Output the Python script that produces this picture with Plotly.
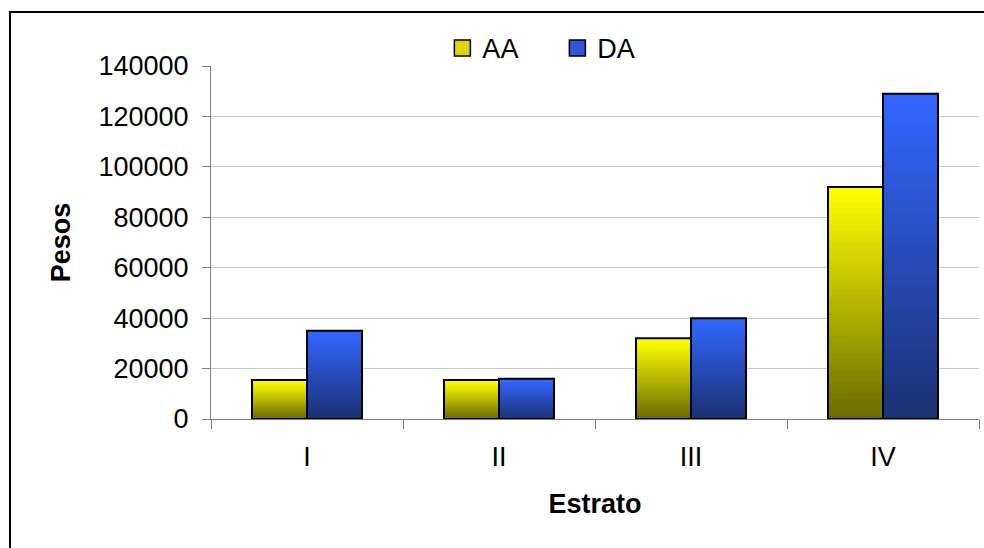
import plotly.graph_objects as go

# Data
estratos = ["I", "II", "III", "IV"]
aa_values = [15500, 15500, 32000, 92000]
da_values = [35000, 16000, 40000, 129000]
y_ticks = [0, 20000, 40000, 60000, 80000, 100000, 120000, 140000]

series = [
    # name, values, top colour, bottom colour
    ("AA", aa_values, (255, 255, 0), (104, 104, 0)),
    ("DA", da_values, (51, 102, 255), (26, 48, 112)),
]

FONT = "Liberation Sans, Arial, sans-serif"
FS = 27
N_STEPS = 40

fig = go.Figure()


def mix(c_top, c_bot, t):
    r, g, b = (round(c_bot[i] + (c_top[i] - c_bot[i]) * t) for i in range(3))
    return f"rgb({r},{g},{b})"


# Vertical gradient: each bar is split into stacked slices; every slice
# reaches a little below its own band so the next one drawn covers the seam.
for name, vals, c_top, c_bot in series:
    for k in range(N_STEPS):
        t = (k + 0.5) / N_STEPS
        ext = 0 if k == 0 else 0.6
        fig.add_trace(go.Bar(
            x=estratos,
            y=[v * (1 + ext) / N_STEPS for v in vals],
            base=[v * (k - ext) / N_STEPS for v in vals],
            offsetgroup=name,
            marker=dict(color=mix(c_top, c_bot, t), line=dict(width=0)),
            showlegend=False,
            hoverinfo="skip",
        ))
    # black outline on top of the gradient
    fig.add_trace(go.Bar(
        x=estratos, y=vals, offsetgroup=name,
        marker=dict(color="rgba(0,0,0,0)", line=dict(color="black", width=2)),
        showlegend=False,
        hovertemplate=name + ": %{y}<extra></extra>",
    ))
    # legend swatch (square marker, no visible points)
    fig.add_trace(go.Scatter(
        x=[None], y=[None], mode="markers", name=name,
        marker=dict(symbol="square", size=16, color=mix(c_top, c_bot, 0.75),
                    line=dict(color="black", width=1.5)),
        showlegend=True,
    ))

fig.update_layout(
    width=984, height=548,
    margin=dict(l=211, r=5, t=66, b=129),
    paper_bgcolor="white", plot_bgcolor="white",
    barmode="group", bargap=0.427, bargroupgap=0,
    font=dict(family=FONT, size=FS, color="black"),
    showlegend=True,
    legend=dict(
        orientation="h", x=0.451, xanchor="center", y=1.05, yanchor="middle",
        bgcolor="white", borderwidth=0, font=dict(size=FS),
        traceorder="normal", entrywidth=70, entrywidthmode="pixels",
    ),
    xaxis=dict(
        type="category", categoryarray=estratos, categoryorder="array",
        tickson="boundaries", ticks="outside", ticklen=9,
        tickcolor="#808080", tickwidth=1,
        showline=True, linecolor="#808080", linewidth=1,
        showgrid=False, tickfont=dict(size=FS), ticklabelstandoff=14,
        title=dict(text="<b>Estrato</b>", font=dict(size=FS), standoff=22),
    ),
    yaxis=dict(
        range=[0, 140000], tickvals=y_ticks,
        ticktext=[str(v) for v in y_ticks],
        ticks="outside", ticklen=8, tickcolor="#808080",
        showline=True, linecolor="#808080", linewidth=1,
        showgrid=True, gridcolor="#c8c8c8", gridwidth=1,
        zeroline=False, tickfont=dict(size=FS), ticklabelstandoff=8,
        title=dict(text="<b>Pesos</b>", font=dict(size=FS), standoff=20),
    ),
    shapes=[
        # outer chart border
        dict(
            type="rect", xref="paper", yref="paper",
            x0=(10 - 211) / 768, x1=1.2, y0=-0.6, y1=(419 - 12) / 353,
            line=dict(color="black", width=2), fillcolor="rgba(0,0,0,0)",
            layer="below",
        ),
        # legend backdrop interrupting the top gridline
        dict(
            type="rect", xref="paper", yref="paper",
            x0=(425 - 211) / 768, x1=(658 - 211) / 768,
            y0=0.99, y1=1.03,
            line=dict(width=0), fillcolor="white", layer="above",
        ),
    ],
)

fig.write_html("out.html")
